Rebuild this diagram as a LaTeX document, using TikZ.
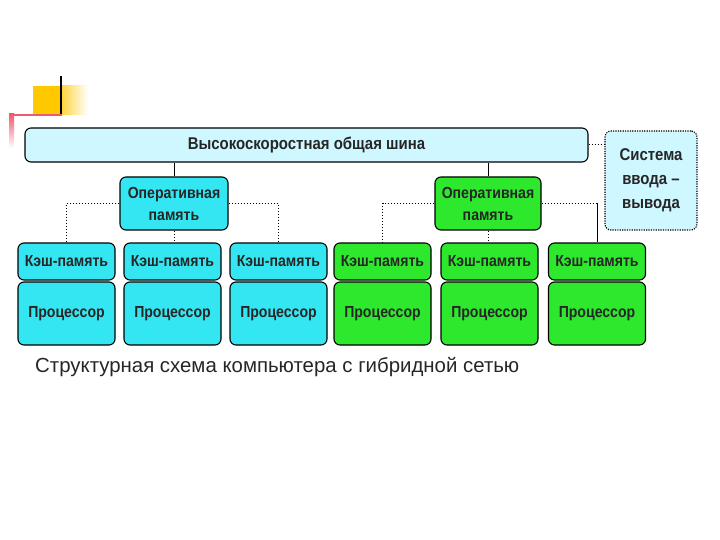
\documentclass[tikz,border=0pt]{standalone}
\usepackage{fontspec}
\setmainfont{Liberation Sans}
\newfontfamily\boxfont[FakeStretch=0.88]{Liberation Sans}
\definecolor{cyanbox}{RGB}{51,230,242}
\definecolor{greenbox}{RGB}{45,232,45}
\definecolor{lightbox}{RGB}{206,247,255}
\definecolor{decoyellow}{RGB}{255,200,0}
\definecolor{decored}{RGB}{240,90,110}
\tikzset{
  box/.style={draw=black, line width=1.1pt, rounded corners=6pt, inner sep=1pt, align=center,
    font=\boxfont\bfseries\fontsize{16}{22}\selectfont, text=black!85},
  cbox/.style={box, fill=cyanbox},
  gbox/.style={box, fill=greenbox},
  lbox/.style={box, fill=lightbox},
  cachebox/.style={minimum width=97pt, minimum height=37pt},
  procbox/.style={minimum width=97pt, minimum height=63pt},
  ramsize/.style={minimum height=53pt},
  solidlink/.style={draw=black, line width=0.9pt},
  dotlink/.style={draw=black, line width=1pt, dotted},
}
\begin{document}
\begin{tikzpicture}[x=1pt,y=-1pt]
\useasboundingbox (0,0) rectangle (720,540);
% decoration
\fill[decoyellow] (33,86) rectangle (60,115);
\shade[left color=decoyellow!80, right color=white] (60,86) rectangle (88,115);
\draw[black, line width=2pt] (61,76) -- (61,116);
\draw[decored, line width=2.5pt] (10,115) -- (62,115);
\shade[top color=decored, bottom color=white] (9,114) rectangle (14,148);
% bus and io
\node[lbox, minimum width=563pt, minimum height=34pt,
  font=\boxfont\bfseries\fontsize{17}{20}\selectfont] (bus) at (306.5,145) {Высокоскоростная общая шина};
\node[lbox, dash pattern=on 1.2pt off 1.2pt, minimum width=92pt, minimum height=99pt,
  font=\boxfont\bfseries\fontsize{17}{24}\selectfont] (io) at (651,180.5) {Система\\ввода –\\вывода};
% RAM
\node[cbox, ramsize, minimum width=108pt] (ramL) at (174,203.5) {Оперативная\\память};
\node[gbox, ramsize, minimum width=106pt] (ramR) at (488,203.5) {Оперативная\\память};
% caches and processors
\node[cbox, cachebox] (c1) at (66.5,261.5) {Кэш-память};
\node[cbox, cachebox] (c2) at (172.5,261.5) {Кэш-память};
\node[cbox, cachebox] (c3) at (278.5,261.5) {Кэш-память};
\node[gbox, cachebox] (c4) at (382.5,261.5) {Кэш-память};
\node[gbox, cachebox] (c5) at (489.5,261.5) {Кэш-память};
\node[gbox, cachebox] (c6) at (597,261.5) {Кэш-память};
\node[cbox, procbox] (p1) at (66.5,313.5) {Процессор};
\node[cbox, procbox] (p2) at (172.5,313.5) {Процессор};
\node[cbox, procbox] (p3) at (278.5,313.5) {Процессор};
\node[gbox, procbox] (p4) at (382.5,313.5) {Процессор};
\node[gbox, procbox] (p5) at (489.5,313.5) {Процессор};
\node[gbox, procbox] (p6) at (597,313.5) {Процессор};
% connectors
\draw[solidlink] (ramL.north |- bus.south) -- (ramL.north);
\draw[solidlink] (ramR.north |- bus.south) -- (ramR.north);
\draw[dotlink] (bus.east) -- (io.west |- bus.east);
\draw[dotlink] (ramL.west) -| (c1.north);
\draw[dotlink] (ramL.east) -| (c3.north);
\draw[dotlink] (ramL.south) -- (ramL.south |- c2.north);
\draw[dotlink] (ramR.west) -| (c4.north);
\coordinate (k) at (ramR.east -| c6.north);
\draw[dotlink] (ramR.east) -- (k);
\draw[solidlink] (k) -- (c6.north);
\draw[dotlink] (ramR.south) -- (ramR.south |- c5.north);
% caption
\node[font=\fontsize{20.4}{24}\selectfont, text=black!85, anchor=west, inner sep=0pt] (cap) at (35,367) {Структурная схема компьютера с гибридной сетью};
\end{tikzpicture}
\end{document}
